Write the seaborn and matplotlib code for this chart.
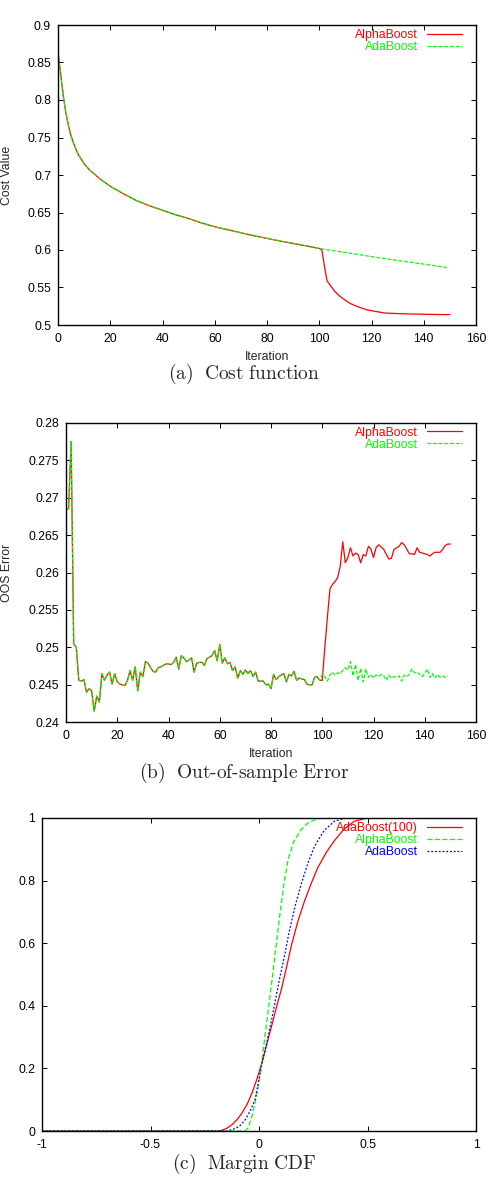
import matplotlib
matplotlib.use('Agg')
import matplotlib.pyplot as plt
import seaborn as sns
from matplotlib.ticker import FuncFormatter, MultipleLocator

# (a) cost function: shared part (0..100), then the two methods split
cost_common_it = [0, 1, 2, 3, 4, 5, 6, 7, 8, 10, 12, 14, 16, 18, 20, 25, 30, 35, 40,
                  45, 50, 55, 60, 65, 70, 75, 80, 85, 90, 95, 100]
cost_common = [0.864, 0.835, 0.806, 0.783, 0.766, 0.752, 0.742, 0.733, 0.726, 0.715,
               0.707, 0.701, 0.695, 0.690, 0.685, 0.675, 0.666, 0.659, 0.653, 0.647,
               0.642, 0.636, 0.631, 0.627, 0.623, 0.619, 0.6155, 0.612, 0.6088, 0.6055,
               0.602]
cost_alpha_it = [101, 102, 103, 104, 106, 108, 110, 112, 115, 118, 120, 125, 130, 135,
                 140, 145, 150]
cost_alpha = [0.600, 0.578, 0.5587, 0.554, 0.5445, 0.538, 0.533, 0.5285, 0.524, 0.5205,
              0.519, 0.516, 0.5152, 0.5147, 0.5143, 0.514, 0.5138]
cost_ada_it = [110, 120, 130, 140, 149]
cost_ada = [0.5967, 0.5912, 0.5860, 0.5812, 0.5765]

# (b) out-of-sample error, iterations 0..99 shared
oos_common = [0.2685, 0.2685, 0.2775, 0.2505, 0.2500, 0.2456, 0.2455, 0.2457, 0.2440, 0.2445,
              0.2442, 0.2415, 0.2435, 0.2427, 0.2465, 0.2456, 0.2463, 0.2467, 0.2451, 0.2465,
              0.2454, 0.2451, 0.2450, 0.2449, 0.2456, 0.2469, 0.2456, 0.2474, 0.2442, 0.2467,
              0.2461, 0.2481, 0.2479, 0.2473, 0.2468, 0.2467, 0.2473, 0.2474, 0.2476, 0.2478,
              0.2478, 0.2477, 0.2480, 0.2487, 0.2471, 0.2489, 0.2486, 0.2481, 0.2483, 0.2486,
              0.2467, 0.2479, 0.2480, 0.2480, 0.2476, 0.2485, 0.2487, 0.2489, 0.2496, 0.2482,
              0.2504, 0.2479, 0.2486, 0.2478, 0.2480, 0.2469, 0.2474, 0.2459, 0.2469, 0.2464,
              0.2470, 0.2465, 0.2469, 0.2461, 0.2467, 0.2455, 0.2455, 0.2455, 0.2450, 0.2451,
              0.2445, 0.2464, 0.2457, 0.2461, 0.2463, 0.2465, 0.2454, 0.2464, 0.2462, 0.2468,
              0.2456, 0.2459, 0.2458, 0.2457, 0.2451, 0.2450, 0.2450, 0.2460, 0.2461, 0.2456]
oos_alpha_tail = [0.2456, 0.2500, 0.2540, 0.2578, 0.2584, 0.2588, 0.2593, 0.2608, 0.2641, 0.2613,
                  0.2620, 0.2633, 0.2622, 0.2626, 0.2624, 0.2613, 0.2624, 0.2622, 0.2635, 0.2631,
                  0.2620, 0.2633, 0.2637, 0.2634, 0.2631, 0.2624, 0.2618, 0.2619, 0.2631, 0.2633,
                  0.2635, 0.2640, 0.2637, 0.2631, 0.2625, 0.2625, 0.2624, 0.2633, 0.2627, 0.2626,
                  0.2625, 0.2624, 0.2622, 0.2625, 0.2627, 0.2627, 0.2627, 0.2631, 0.2636, 0.2638,
                  0.2638]
oos_ada_tail = [0.2464, 0.2461, 0.2455, 0.2463, 0.2467, 0.2463, 0.2466, 0.2465, 0.2469, 0.2473,
                0.2470, 0.2481, 0.2462, 0.2477, 0.2456, 0.2472, 0.2454, 0.2471, 0.2460, 0.2464,
                0.2459, 0.2463, 0.2461, 0.2464, 0.2462, 0.2456, 0.2463, 0.2459, 0.2461, 0.2460,
                0.2462, 0.2455, 0.2463, 0.2461, 0.2464, 0.2471, 0.2466, 0.2467, 0.2464, 0.2461,
                0.2465, 0.2471, 0.2460, 0.2465, 0.2459, 0.2464, 0.2460, 0.2462, 0.2460, 0.2462]

# (c) margin CDF
m_ada100 = [-1, -0.18, -0.15, -0.125, -0.1, -0.079, -0.055, -0.033, -0.01, 0.012, 0.035, 0.058,
            0.08, 0.104, 0.134, 0.15, 0.18, 0.21, 0.24, 0.27, 0.31, 0.348, 0.39, 0.44, 0.5, 1]
cdf_ada100 = [0, 0, 0.008, 0.02, 0.037, 0.057, 0.085, 0.12, 0.165, 0.215, 0.275, 0.335,
              0.395, 0.455, 0.545, 0.595, 0.672, 0.735, 0.79, 0.84, 0.89, 0.928, 0.963, 0.99, 1, 1]
m_alpha = [-1, -0.065, -0.05, -0.033, -0.02, -0.006, 0.012, 0.035, 0.058, 0.073, 0.096, 0.115,
           0.134, 0.16, 0.195, 0.23, 0.27, 0.3, 1]
cdf_alpha = [0, 0, 0.01, 0.046, 0.085, 0.13, 0.217, 0.345, 0.47, 0.56, 0.69, 0.79,
             0.867, 0.925, 0.963, 0.987, 0.997, 1, 1]
m_ada = [-1, -0.15, -0.12, -0.09, -0.064, -0.04, -0.018, 0.012, 0.035, 0.058, 0.076, 0.096,
         0.122, 0.137, 0.165, 0.195, 0.225, 0.256, 0.3, 0.348, 0.4, 1]
cdf_ada = [0, 0, 0.005, 0.015, 0.035, 0.065, 0.1, 0.21, 0.28, 0.355, 0.42, 0.49,
           0.575, 0.63, 0.715, 0.79, 0.855, 0.91, 0.96, 0.99, 1, 1]

sns.set_style('ticks')
plt.rcParams['font.family'] = ['Liberation Sans', 'DejaVu Sans']
plt.rcParams['mathtext.fontset'] = 'cm'

RED, GREEN, BLUE = '#ff0000', '#00ff00', '#0000ff'
FS = 8.8
W, H = 488, 1178
fig = plt.figure(figsize=(W / 100, H / 100), dpi=100)


def make_ax(left, top, right, bottom):
    ax = fig.add_axes([left / W, 1 - bottom / H, (right - left) / W, (bottom - top) / H])
    for s in ax.spines.values():
        s.set_linewidth(1.0)
        s.set_color('black')
    ax.tick_params(direction='in', length=3.6, width=0.7, top=True, right=True,
                   labelsize=FS, colors='black')
    ax.tick_params(axis='x', pad=5.5)
    ax.tick_params(axis='y', pad=5)
    ax.xaxis.set_major_formatter(FuncFormatter(lambda v, p: '%g' % round(v, 6)))
    ax.yaxis.set_major_formatter(FuncFormatter(lambda v, p: '%g' % round(v, 6)))
    return ax


def legend(ax, w, h):
    ax.legend(loc='upper right', bbox_to_anchor=(1 - 14 / w, 1 - 4 / h),
              borderaxespad=0, borderpad=0, frameon=False, markerfirst=False,
              handlelength=2.85, handletextpad=0.75, labelspacing=0.0,
              labelcolor='linecolor', fontsize=FS)


# ---- (a)
ax = make_ax(58, 25, 476, 325)
sns.lineplot(x=cost_common_it + cost_alpha_it, y=cost_common + cost_alpha, ax=ax,
             color=RED, lw=0.9, label='AlphaBoost', estimator=None)
sns.lineplot(x=cost_common_it + cost_ada_it, y=cost_common + cost_ada, ax=ax,
             color=GREEN, lw=0.9, linestyle=(0, (3, 1.5)), label='AdaBoost', estimator=None)
ax.set_xlim(0, 160)
ax.set_ylim(0.5, 0.9)
ax.xaxis.set_major_locator(MultipleLocator(20))
ax.yaxis.set_major_locator(MultipleLocator(0.05))
ax.set_xlabel('Iteration', fontsize=FS)
ax.set_ylabel('Cost Value', fontsize=FS)
ax.xaxis.set_label_coords(0.5, -0.085)
ax.yaxis.set_label_coords(-0.107, 0.5)
legend(ax, 418, 300)
fig.text(0.5, 1 - 374 / H, r'$\mathrm{(a)\ \ Cost\ function}$', ha='center', va='center',
         fontsize=14)

# ---- (b)
its = list(range(len(oos_common)))
tail_a = list(range(100, 100 + len(oos_alpha_tail)))
tail_b = list(range(100, 100 + len(oos_ada_tail)))
ax = make_ax(66, 422.7, 476, 722.3)
sns.lineplot(x=its + tail_a, y=oos_common + oos_alpha_tail, ax=ax,
             color=RED, lw=0.9, label='AlphaBoost', estimator=None)
sns.lineplot(x=its + tail_b, y=oos_common + oos_ada_tail, ax=ax,
             color=GREEN, lw=0.9, linestyle=(0, (3, 1.5)), label='AdaBoost', estimator=None)
ax.set_xlim(0, 160)
ax.set_ylim(0.24, 0.28)
ax.xaxis.set_major_locator(MultipleLocator(20))
ax.yaxis.set_major_locator(MultipleLocator(0.005))
ax.set_xlabel('Iteration', fontsize=FS)
ax.set_ylabel('OOS Error', fontsize=FS)
ax.xaxis.set_label_coords(0.5, -0.085)
ax.yaxis.set_label_coords(-0.129, 0.5)
legend(ax, 410, 300)
fig.text(0.5, 1 - 773 / H, r'$\mathrm{(b)\ \ Out\text{-}of\text{-}sample\ Error}$',
         ha='center', va='center', fontsize=14)

# ---- (c)
ax = make_ax(42, 818, 476, 1131)
sns.lineplot(x=m_ada100, y=cdf_ada100, ax=ax, color=RED, lw=0.9,
             label='AdaBoost(100)', estimator=None)
sns.lineplot(x=m_alpha, y=cdf_alpha, ax=ax, color=GREEN, lw=0.9,
             linestyle=(0, (4, 2)), label='AlphaBoost', estimator=None)
sns.lineplot(x=m_ada, y=cdf_ada, ax=ax, color=BLUE, lw=0.9,
             linestyle=(0, (1.5, 1.5)), label='AdaBoost', estimator=None)
ax.set_xlim(-1, 1)
ax.set_ylim(0, 1)
ax.xaxis.set_major_locator(MultipleLocator(0.5))
ax.yaxis.set_major_locator(MultipleLocator(0.2))
ax.set_xlabel('')
ax.set_ylabel('')
legend(ax, 434, 313)
fig.text(0.5, 1 - 1164 / H, r'$\mathrm{(c)\ \ Margin\ CDF}$', ha='center', va='center',
         fontsize=14)

fig.savefig('out.png', dpi=100)
